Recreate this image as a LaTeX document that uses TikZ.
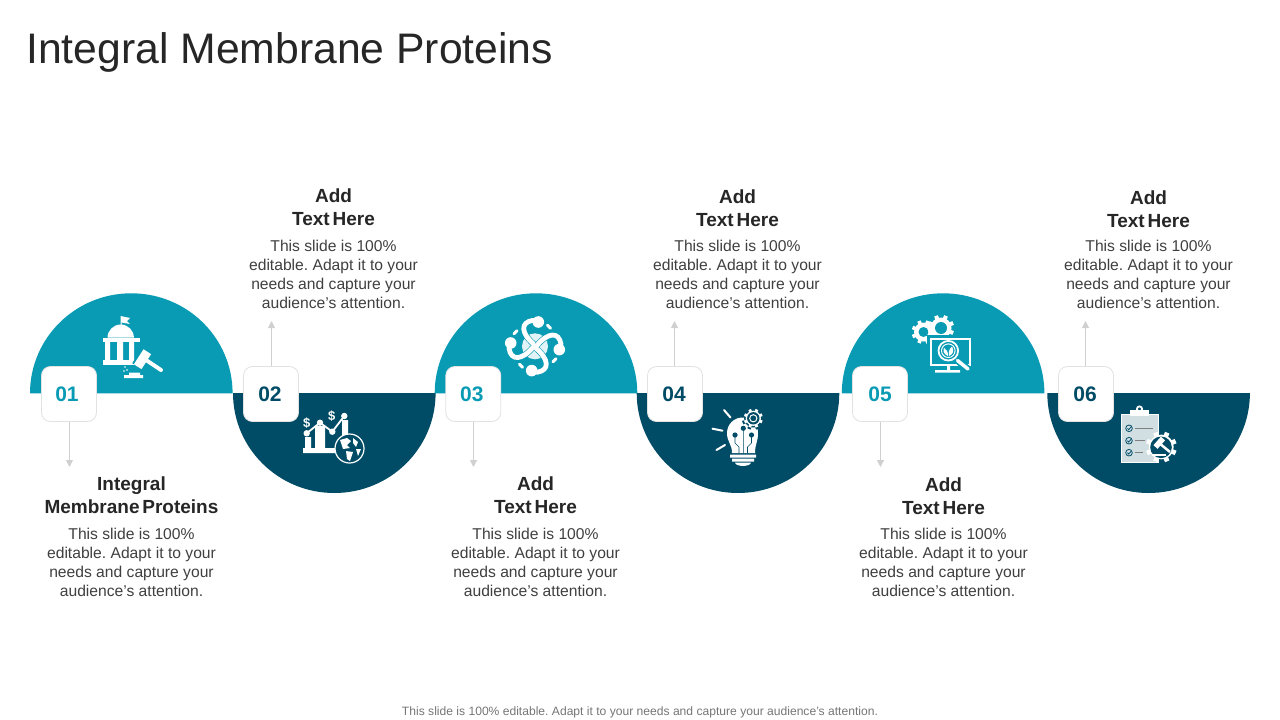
\documentclass[tikz,border=0pt]{standalone}
\usepackage{fontspec}
\setmainfont{Liberation Sans}
\frenchspacing
\usetikzlibrary{arrows.meta}
\definecolor{niceteal}{RGB}{9, 155, 180}
\definecolor{nicenavy}{RGB}{0, 76, 102}
\definecolor{lgray}{RGB}{208, 208, 208}
\definecolor{bgray}{RGB}{226, 226, 226}
\definecolor{dtext}{RGB}{38, 38, 38}
\definecolor{btext}{RGB}{64, 64, 64}
\definecolor{ftext}{RGB}{118, 118, 118}
\tikzset{
	badge/.style = {draw = bgray, fill = white, rounded corners = 9pt, minimum width = 55pt, minimum height = 55pt, inner sep = 0pt, line width = 0.8pt, font = \fontsize{21}{21}\selectfont\bfseries},
	head/.style = {align = center, text = dtext, inner sep = 0pt, font = \fontsize{19}{23}\selectfont\bfseries},
	body/.style = {align = center, text = btext, inner sep = 0pt, font = \fontsize{15.65}{19}\selectfont},
	lead/.style = {draw = lgray, line width = 1pt, -{Triangle[length = 7pt, width = 7pt]}},
	dome/.style = {x radius = 101.3, y radius = 100}
}
\newcommand{\tsp}{\hspace{0.15em}}
% gear: x, y, radius, colour
\newcommand{\cog}[4]{
	\fill[#4] (#1,#2) circle (#3);
	\foreach \a in {0,45,...,315}
		\draw[#4, line width = #3*0.38pt] (#1,#2) ++(\a+22.5:#3*0.8) -- ++(\a+22.5:#3*0.45);
}
\begin{document}
\begin{tikzpicture}[x = 1pt, y = -1pt]
			\useasboundingbox (0,0) rectangle (1280,720);
			\fill[white] (0,0) rectangle (1280,720);
			\node (title) at (26,52) [anchor = west, inner sep = 0pt, text = dtext, font = \fontsize{42.7}{43}\selectfont] {Integral Membrane Proteins};
			\fill[niceteal] (30,393.3) arc [start angle = 180, end angle = 360, dome] -- cycle;
			\fill[nicenavy] (233,393) arc [start angle = 180, end angle = 0, dome] -- cycle;
			\fill[niceteal] (434.7,393.3) arc [start angle = 180, end angle = 360, dome] -- cycle;
			\fill[nicenavy] (636.7,393) arc [start angle = 180, end angle = 0, dome] -- cycle;
			\fill[niceteal] (841.8,393.3) arc [start angle = 180, end angle = 360, dome] -- cycle;
			\fill[nicenavy] (1047.3,393) arc [start angle = 180, end angle = 0, dome] -- cycle;
			\node (n1) at (69,394) [badge, text = niceteal] {\hspace*{-4pt}01};
			\node (n2) at (271,394) [badge, text = nicenavy] {\hspace*{-2pt}02};
			\node (n3) at (473.3,394) [badge, text = niceteal] {\hspace*{-3pt}03};
			\node (n4) at (675,394) [badge, text = nicenavy] {\hspace*{-2pt}04};
			\node (n5) at (880,394) [badge, text = niceteal] {05};
			\node (n6) at (1086,394) [badge, text = nicenavy] {\hspace*{-2pt}06};
			\coordinate (e1) at (69.5,467);
			\coordinate (e2) at (271.5,321);
			\coordinate (e3) at (473.5,467);
			\coordinate (e4) at (674.5,321);
			\coordinate (e5) at (880.5,467);
			\coordinate (e6) at (1085.5,321);
			\draw[lead] (n1.south -| e1) -- (e1);
			\draw[lead] (n2.north -| e2) -- (e2);
			\draw[lead] (n3.south -| e3) -- (e3);
			\draw[lead] (n4.north -| e4) -- (e4);
			\draw[lead] (n5.south -| e5) -- (e5);
			\draw[lead] (n6.north -| e6) -- (e6);
			\node (h1) at (131.5,495) [head] {Integral\\Membrane\tsp Proteins};
			\node (h2) at (333.5,207.5) [head] {Add\\Text\tsp Here};
			\node (h3) at (535.5,495.5) [head] {Add\\Text\tsp Here};
			\node (h4) at (737.5,208.5) [head] {Add\\Text\tsp Here};
			\node (h5) at (943.5,496.5) [head] {Add\\Text\tsp Here};
			\node (h6) at (1148.5,209.5) [head] {Add\\Text\tsp Here};
			\node (d1) at (131.5,562.7) [body] {This slide is 100\%\\editable. Adapt it to your\\needs and capture your\\audience’s attention.};
			\node (d2) at (333.5,274.7) [body] {This slide is 100\%\\editable. Adapt it to your\\needs and capture your\\audience’s attention.};
			\node (d3) at (535.5,562.7) [body] {This slide is 100\%\\editable. Adapt it to your\\needs and capture your\\audience’s attention.};
			\node (d4) at (737.5,274.7) [body] {This slide is 100\%\\editable. Adapt it to your\\needs and capture your\\audience’s attention.};
			\node (d5) at (943.5,562.7) [body] {This slide is 100\%\\editable. Adapt it to your\\needs and capture your\\audience’s attention.};
			\node (d6) at (1148.5,274.7) [body] {This slide is 100\%\\editable. Adapt it to your\\needs and capture your\\audience’s attention.};
			\node (foot) at (640,712) [inner sep = 0pt, text = ftext, font = \fontsize{12.1}{12}\selectfont] {This slide is 100\% editable. Adapt it to your needs and capture your audience’s attention.};
			% court and gavel
			\fill[white] (120.5,316) -- (130,318) -- (127,321) -- (130,324) -- (121.5,322.5) -- (121.5,328) -- (120.5,328) -- cycle;
			\fill[white] (107.5,337.7) arc [start angle = 180, end angle = 360, radius = 13.2] -- cycle;
			\fill[white] (102.5,337.5) -- (139.5,337.5) -- (139.5,342) -- (102.5,342) -- cycle;
			\fill[white] (105,342) rectangle (110,360) (117,342) rectangle (123,360) (129,342) rectangle (134,360);
			\fill[white] (102.5,360) rectangle (134,364.5);
			\draw[niceteal, line width = 13pt] (147.3,351.7) -- (137.7,366.7);
			\draw[white, line width = 4pt, line cap = round] (143,358) -- (161,370);
			\draw[white, line width = 9pt] (147.3,351.7) -- (137.7,366.7);
			\fill[white] (129,372.5) rectangle (140,375) (124,375) rectangle (143,378);
			\fill[white] (125,367) circle (0.8) (127,370) circle (0.8) (124,371) circle (0.8);
			% chart and globe
			\fill[white] (303,448) rectangle (335,453) (305,437) rectangle (311,448) (315,426) rectangle (325,448) (342,420) rectangle (348,438);
			\draw[white, line width = 1.8pt] (306.7,433.3) -- (320,422.7) -- (332.3,431.7) -- (344.3,416);
			\fill[white] (306.7,433.3) circle (3.2) (320,422.7) circle (3.2) (332.3,431.7) circle (3.2) (344.3,416) circle (3.2);
			\node (s1) at (306.7,423) [inner sep = 0pt, text = white, font = \fontsize{13}{13}\selectfont\bfseries] {\$};
			\node (s2) at (331.7,416.5) [inner sep = 0pt, text = white, font = \fontsize{13}{13}\selectfont\bfseries] {\$};
			\draw[white, fill = nicenavy, line width = 1.2pt] (349.5,448.5) circle (14.5);
			\fill[white] (340,440) -- (347,438) -- (351,441) -- (347,445) -- (350,448) -- (343,449) -- cycle;
			\fill[white] (346,451) -- (353,452) -- (350,461) -- (347,459) -- cycle;
			\fill[white] (353,438) -- (358,442) -- (356,447) -- (353,443) -- cycle;
			\fill[white] (356,449) -- (361,449) -- (358,456) -- cycle;
			% people circle
			\fill[white!88!niceteal] (535,346.3) circle (13);
			\foreach \a in {0,90,180,270} {
				\begin{scope}[shift = {(535,346.3)}, rotate = \a]
					\draw[niceteal, line width = 6pt] (-2,-26) .. controls (-15,-24) and (-14,-13) .. (-1,-2);
					\draw[white, line width = 4.8pt, line cap = round] (-2,-26) .. controls (-15,-24) and (-14,-13) .. (-1,-2);
					\fill[white] (3.3,-24.3) circle (5.8);
					\draw[white, line width = 3pt, line cap = round] (12.5,-21) -- (15.5,-18);
				\end{scope}
			}
			% bulb
			\draw[white, line width = 2pt, line cap = round] (724,410) -- (730.5,417.5) (712.5,428.7) -- (722.5,430.7) (716.5,450) -- (725,445);
			\fill[white] (732,453) .. controls (732,444) and (727,442) .. (727,433) arc [start angle = 180, end angle = 360, radius = 15.5] .. controls (758,442) and (755,444) .. (755,453) -- cycle;
			\fill[white] (730,454.5) rectangle (756,457.5) (732,458.5) rectangle (754,461.5);
			\fill[white] (735,462.7) -- (751,462.7) .. controls (750,467) and (736,467) .. (735,462.7) -- cycle;
			\draw[nicenavy, line width = 0.6pt] (735,435) -- (735,443) -- (739,447) -- (739,453) (743.3,428) -- (743.3,453) (751.5,435) -- (751.5,443) -- (747.5,447) -- (747.5,453);
			\fill[nicenavy] (735,435) circle (2.6) (743.3,428.3) circle (2.6) (751.5,435) circle (2.6);
			\cog{753.3}{418.3}{9.2}{nicenavy}
			\cog{753.3}{418.3}{7.6}{white}
			\fill[nicenavy] (753.3,418.3) circle (6.2);
			\draw[white, line width = 1pt] (753.3,418.3) circle (3.6);
			% gears and screen
			\cog{923.5}{332}{9.5}{white}
			\fill[niceteal] (923.5,332) circle (5);
			\cog{941}{328}{10.5}{white}
			\fill[niceteal] (941,328) circle (6);
			\fill[niceteal] (926.5,335) rectangle (974,369);
			\draw[white, line width = 2pt] (930.5,338.5) rectangle (970,364.5);
			\fill[white] (947,365) rectangle (950,370) (935,370) rectangle (960,372.5);
			\draw[niceteal, line width = 7pt] (957,360) -- (969,370);
			\draw[white, line width = 3.5pt, line cap = round] (957.5,360.5) -- (968,369);
			\draw[white, line width = 1.8pt] (948.3,350.7) circle (9.8);
			\draw[white, line width = 1pt] (948.3,350.7) circle (6.8);
			\fill[white] (948,356) .. controls (943,354) and (943,350) .. (944,348) .. controls (947,349) and (948,352) .. (948,356) -- cycle;
			\fill[white] (949,356) .. controls (954,354) and (954,350) .. (952,346.5) .. controls (949,349) and (948.5,352) .. (949,356) -- cycle;
			% clipboard and gear
			\draw[white, fill = white!82!nicenavy, line width = 1pt] (1121,414) rectangle (1158.5,462.5);
			\fill[white] (1130,410) rectangle (1149,416);
			\draw[white, line width = 1.8pt] (1139.5,409) circle (2.6);
			\draw[nicenavy, line width = 0.8pt] (1129,428.3) circle (3.3) (1129,440.7) circle (3.3) (1129,452.7) circle (3.3);
			\draw[nicenavy, line width = 0.8pt] (1127.5,428.3) -- (1128.7,429.7) -- (1131,427) (1127.5,440.7) -- (1128.7,442) -- (1131,439.4) (1127.5,452.7) -- (1128.7,454) -- (1131,451.4);
			\draw[gray, line width = 1pt] (1135,428.3) -- (1153,428.3) (1135,440.7) -- (1145,440.7) (1135,452.7) -- (1143,452.7);
			\cog{1161.3}{447}{12.4}{white}
			\fill[nicenavy] (1161,447.3) circle (10.8);
			\draw[white, line width = 2.5pt] (1159,443) -- (1170,452);
			\draw[white, line width = 5.5pt] (1155.5,447) -- (1163,438.5);
			\fill[white] (1152,453.5) rectangle (1166,456);
\end{tikzpicture}
\end{document}
